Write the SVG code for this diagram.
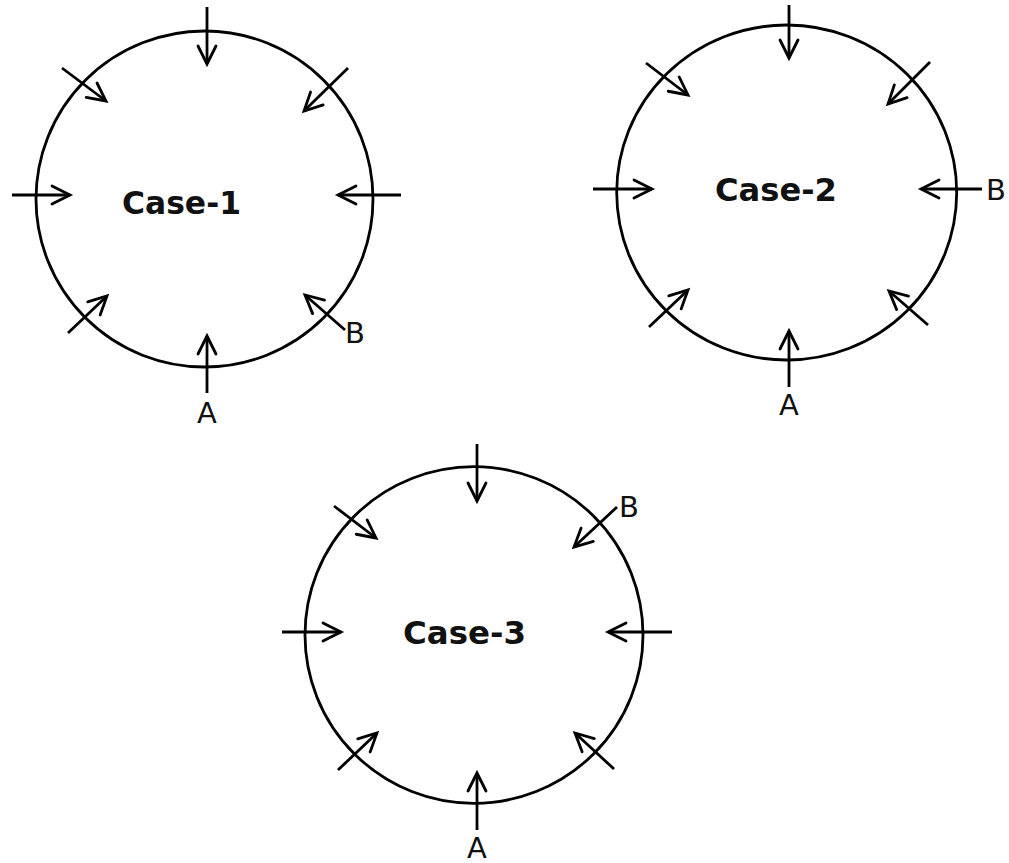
<svg xmlns="http://www.w3.org/2000/svg" width="1009" height="863" viewBox="0 0 1009 863">
  <style>
    .ring { fill: none; stroke: #000; stroke-width: 2.8; }
    .arr { fill: none; stroke: #000; stroke-width: 2.8; marker-end: url(#head); }
    .title { font-family: "DejaVu Sans", Verdana, sans-serif; font-weight: bold; font-size: 32px; fill: #111; }
    .lbl { font-family: "DejaVu Sans", Verdana, sans-serif; font-size: 29px; fill: #111; }
  </style>
  <defs>
    <marker id="head" markerUnits="userSpaceOnUse" viewBox="-25 -15 30 30" refX="0" refY="0" markerWidth="30" markerHeight="30" orient="auto">
      <path d="M-18,-9 L0,0 L-18,9" fill="none" stroke="#000" stroke-width="2.8" stroke-linecap="round" stroke-linejoin="miter"/>
    </marker>
  </defs>
  <rect width="1009" height="863" fill="#fff"/>

  <g id="case1">
    <ellipse class="ring" cx="204.5" cy="199" rx="168.5" ry="168"/>
    <text class="title" x="122" y="214" textLength="119" lengthAdjust="spacingAndGlyphs">Case-1</text>
    <text class="lbl" x="207" y="423" text-anchor="middle">A</text>
    <text class="lbl" x="345" y="343">B</text>
  </g>

  <g id="case2">
    <ellipse class="ring" cx="786.7" cy="192.5" rx="170" ry="167.5"/>
    <text class="title" x="715" y="201" textLength="122" lengthAdjust="spacingAndGlyphs">Case-2</text>
    <text class="lbl" x="789" y="415" text-anchor="middle">A</text>
    <text class="lbl" x="986" y="200">B</text>
  </g>

  <g id="case3">
    <ellipse class="ring" cx="474" cy="635" rx="169" ry="168.3"/>
    <text class="title" x="403" y="644" textLength="123" lengthAdjust="spacingAndGlyphs">Case-3</text>
    <text class="lbl" x="477" y="858" text-anchor="middle">A</text>
    <text class="lbl" x="619" y="517">B</text>
  </g>

  <g id="connectors">
    <!-- case 1 -->
    <line class="arr" x1="207" y1="7" x2="207" y2="64"/>
    <line class="arr" x1="62" y1="68" x2="106" y2="101"/>
    <line class="arr" x1="348" y1="68" x2="304" y2="111"/>
    <line class="arr" x1="12" y1="195" x2="70" y2="195"/>
    <line class="arr" x1="401" y1="195" x2="338" y2="195"/>
    <line class="arr" x1="68" y1="333" x2="107" y2="296"/>
    <line class="arr" x1="345" y1="330" x2="305" y2="295"/>
    <line class="arr" x1="207" y1="393" x2="207" y2="336"/>
    <!-- case 2 -->
    <line class="arr" x1="789" y1="5" x2="789" y2="58"/>
    <line class="arr" x1="646" y1="63" x2="688" y2="95"/>
    <line class="arr" x1="930" y1="62" x2="888" y2="104"/>
    <line class="arr" x1="593" y1="189" x2="652" y2="189"/>
    <line class="arr" x1="982" y1="189" x2="921" y2="189"/>
    <line class="arr" x1="649" y1="327" x2="688" y2="290"/>
    <line class="arr" x1="928" y1="325" x2="889" y2="291"/>
    <line class="arr" x1="789" y1="387" x2="789" y2="331"/>
    <!-- case 3 -->
    <line class="arr" x1="477" y1="444" x2="477" y2="501"/>
    <line class="arr" x1="334" y1="506" x2="376" y2="538"/>
    <line class="arr" x1="617" y1="507" x2="574" y2="547"/>
    <line class="arr" x1="282" y1="632" x2="341" y2="632"/>
    <line class="arr" x1="672" y1="632" x2="608" y2="632"/>
    <line class="arr" x1="338" y1="770" x2="377" y2="733"/>
    <line class="arr" x1="614" y1="769" x2="575" y2="733"/>
    <line class="arr" x1="477" y1="830" x2="477" y2="773"/>
  </g>
</svg>
